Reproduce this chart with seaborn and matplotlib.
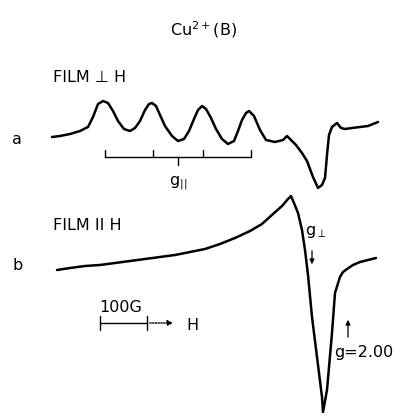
import matplotlib
matplotlib.use("Agg")
import matplotlib.pyplot as plt
import seaborn as sns
import pandas as pd

# --- data (field position, signal level; image-like units) ---
field_a = [52, 60, 70, 80, 88, 93, 98, 103, 108, 113, 118, 124, 130, 135, 140, 145, 149,
           152, 156, 160, 165, 172, 178, 184, 189, 194, 198, 202, 206, 211, 216, 222,
           228, 234, 238, 242, 246, 249, 254, 260, 266, 275, 283, 287, 291, 296, 302,
           307, 313, 318, 322, 325, 327, 329, 332, 337, 341, 345, 352, 360, 368, 378]
signal_a = [137, 136, 134, 131, 127, 117, 104, 101, 103, 111, 121, 129, 131, 128, 121, 110, 104,
            103, 106, 115, 126, 136, 141, 139, 131, 119, 110, 106, 109, 118, 129, 139,
            144, 141, 131, 120, 113, 111, 116, 130, 140, 142, 140, 136, 140, 145, 153,
            161, 177, 188, 185, 178, 155, 135, 127, 123, 128, 129, 128, 127, 126, 122]

field_b = [57, 70, 85, 100, 115, 130, 145, 160, 175, 190, 205, 220, 235, 250, 262, 273,
           282, 288, 291, 294, 298, 302, 305, 308, 312, 317, 322, 323, 327, 332, 335,
           340, 343, 347, 353, 360, 368, 376]
signal_b = [270, 268, 266, 265, 263, 261, 259, 257, 255, 252, 249, 244, 238, 231, 224, 214,
            206, 199, 196, 203, 213, 230, 250, 275, 317, 357, 397, 412, 390, 333, 293,
            277, 272, 269, 265, 262, 260, 258]

trace_labels = ["a", "b"]

df = pd.concat([
    pd.DataFrame({"field": field_a, "signal": signal_a, "trace": "a"}),
    pd.DataFrame({"field": field_b, "signal": signal_b, "trace": "b"}),
], ignore_index=True)

sns.set_style("white")
plt.rcParams["font.family"] = ["DejaVu Sans"]
plt.rcParams["text.color"] = "black"

fig = plt.figure(figsize=(4.0, 4.17), dpi=100)
ax = fig.add_axes([0, 0, 1, 1])
sns.lineplot(data=df, x="field", y="signal", units="trace", estimator=None, sort=False,
             color="black", linewidth=1.8, ax=ax, legend=False)
ax.set_xlim(0, 400)
ax.set_ylim(417, 0)
ax.axis("off")

fs = 11.5
ax.text(203, 30, r"$\mathregular{Cu^{2+}(B)}$", ha="center", va="center", fontsize=fs)
ax.text(53, 77, "FILM \u22a5 H", ha="left", va="center", fontsize=fs)
ax.text(12, 139, trace_labels[0], ha="left", va="center", fontsize=fs)
ax.text(53, 225, "FILM II H", ha="left", va="center", fontsize=fs)
ax.text(12, 266, trace_labels[1], ha="left", va="center", fontsize=fs)

# g_parallel bracket
k = dict(color="black", linewidth=1.0)
ax.plot([105, 251], [157, 157], **k)
for xt in (105, 153, 203, 251):
    ax.plot([xt, xt], [157, 150], **k)
ax.plot([178, 178], [157, 165], **k)
ax.text(178, 183, r"$\mathregular{g_{||}}$", ha="center", va="center", fontsize=fs)

# g_perp marker
ax.text(316, 232, r"$\mathregular{g_{\perp}}$", ha="center", va="center", fontsize=fs)
ax.annotate("", xy=(312, 267), xytext=(312, 248),
            arrowprops=dict(arrowstyle="-|>", color="black", lw=0.9, mutation_scale=7))

# g = 2.00 marker
ax.annotate("", xy=(348, 317), xytext=(348, 340),
            arrowprops=dict(arrowstyle="-|>", color="black", lw=0.9, mutation_scale=7))
ax.text(334, 353, "g=2.00", ha="left", va="center", fontsize=fs)

# scale bar
ax.text(99, 308, "100G", ha="left", va="center", fontsize=fs)
ax.plot([100, 147], [323, 323], **k)
ax.plot([100, 100], [316, 330], **k)
ax.plot([147, 147], [316, 330], **k)
ax.annotate("", xy=(176, 323), xytext=(147, 323),
            arrowprops=dict(arrowstyle="-|>", color="black", lw=1.0, linestyle=(0, (1, 1)),
                            mutation_scale=8))
ax.text(186, 325, "H", ha="left", va="center", fontsize=fs)

fig.savefig("out.png", dpi=100, facecolor="white")
